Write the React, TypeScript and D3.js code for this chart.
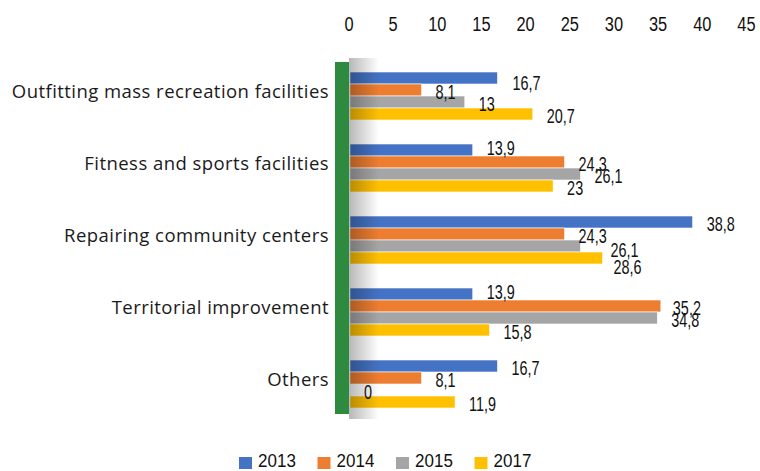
import React from "react";
import * as d3 from "d3";

const categories = [
  "Outfitting mass recreation facilities",
  "Fitness and sports facilities",
  "Repairing community centers",
  "Territorial improvement",
  "Others",
];
const seriesNames = ["2013", "2014", "2015", "2017"];
const values2013 = [16.7, 13.9, 38.8, 13.9, 16.7];
const values2014 = [8.1, 24.3, 24.3, 35.2, 8.1];
const values2015 = [13, 26.1, 26.1, 34.8, 0];
const values2017 = [20.7, 23, 28.6, 15.8, 11.9];
const tickValues = [0, 5, 10, 15, 20, 25, 30, 35, 40, 45];
const colors = ["#4472C4", "#ED7D31", "#A5A5A5", "#FFC000"];
// label nudges [category-series] -> [dx, dy]
const labelNudge: Record<string, [number, number]> = {
  "0-0": [1, 3],
  "1-0": [0, -4],
  "2-2": [16, 2],
  "2-3": [-3, 7],
  "3-0": [0, -4],
  "3-1": [-2, 0],
};

const W = 760;
const H = 471;
const numFont = "'Liberation Sans', Arial, sans-serif";

function CondText(props: {
  x: number;
  y: number;
  size: number;
  sx: number;
  anchor?: "start" | "middle" | "end";
  children: React.ReactNode;
}) {
  return (
    <g transform={`translate(${props.x},${props.y}) scale(${props.sx},1)`}>
      <text
        x={0}
        y={0}
        dy="0.35em"
        textAnchor={props.anchor || "start"}
        fontFamily={numFont}
        fontSize={props.size}
        fill="#111"
      >
        {props.children}
      </text>
    </g>
  );
}

export default function App() {
  const series = [values2013, values2014, values2015, values2017];
  const x = d3.scaleLinear().domain([0, 45]).range([350, 747.4]);
  const y = d3
    .scaleBand<string>()
    .domain(categories)
    .range([60, 420])
    .paddingInner(1 / 3)
    .paddingOuter(1 / 6);
  const inner = d3
    .scaleBand<string>()
    .domain(seriesNames)
    .range([0, y.bandwidth()]);
  const fmt = (v: number) => String(v).replace(".", ",");

  return (
    <svg
      width={W}
      height={H}
      style={{ position: "absolute", left: 0, top: 0, background: "#fff" }}
    >
      <defs>
        <linearGradient id="shade" x1="0" x2="1" y1="0" y2="0">
          <stop offset="0" stopColor="#000" stopOpacity={0.28} />
          <stop offset="1" stopColor="#000" stopOpacity={0} />
        </linearGradient>
      </defs>
      <rect x={0} y={0} width={W} height={H} fill="#fff" />
      {/* tick labels */}
      {tickValues.map((t) => (
        <CondText key={t} x={x(t) - 1} y={24} size={20.5} sx={0.8} anchor="middle">
          {t}
        </CondText>
      ))}
      {/* bars */}
      {categories.map((c, ci) =>
        series.map((vals, si) => (
          <rect
            key={c + si}
            x={x(0)}
            y={(y(c) as number) + (inner(seriesNames[si]) as number)}
            width={x(vals[ci]) - x(0)}
            height={inner.bandwidth()}
            fill={colors[si]}
            stroke="#fff"
            strokeWidth={0.6}
          />
        ))
      )}
      {/* shadow beside axis */}
      <rect x={349} y={58} width={30} height={361} fill="url(#shade)" />
      {/* green axis bar */}
      <rect x={335} y={62} width={14} height={352} fill="#2D8A3E" />
      {/* value labels */}
      {categories.map((c, ci) =>
        series.map((vals, si) => {
          const n = labelNudge[`${ci}-${si}`] || [0, 0];
          const cy =
            (y(c) as number) +
            (inner(seriesNames[si]) as number) +
            inner.bandwidth() / 2;
          return (
            <CondText
              key={"l" + c + si}
              x={x(vals[ci]) + 14 + n[0]}
              y={cy + 2 + n[1]}
              size={19.5}
              sx={0.74}
            >
              {fmt(vals[ci])}
            </CondText>
          );
        })
      )}
      {/* category labels */}
      {categories.map((c) => (
        <text
          key={"c" + c}
          x={329}
          y={(y(c) as number) + y.bandwidth() / 2 - 4}
          dy="0.35em"
          textAnchor="end"
          fontFamily="'Open Sans', Lato, sans-serif"
          fontSize={18.5}
          letterSpacing={0.45}
          fill="#1a1a1a"
        >
          {c}
        </text>
      ))}
      {/* legend */}
      {seriesNames.map((s, i) => (
        <g key={"lg" + s}>
          <rect x={239 + i * 78.5} y={457} width={13} height={12} fill={colors[i]} />
          <CondText x={258 + i * 78.5} y={461} size={18.5} sx={0.92}>
            {s}
          </CondText>
        </g>
      ))}
    </svg>
  );
}
